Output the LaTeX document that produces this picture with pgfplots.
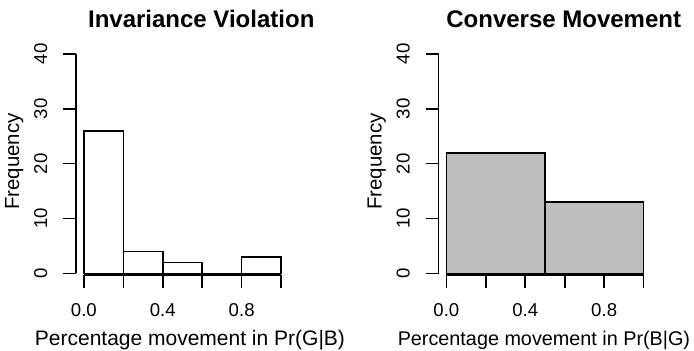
\documentclass[border=0pt]{standalone}
\usepackage{fontspec}
\setmainfont{Liberation Sans}
\usepackage{pgfplots}
\pgfplotsset{compat=1.18}
\definecolor{rgray}{RGB}{190,190,190}
\begin{document}
\begin{tikzpicture}
\useasboundingbox (0,0) rectangle (347pt,175.5pt);
\pgfplotsset{
  rhist/.style={
    scale only axis, width=106.5pt, height=111.95pt,
    anchor=south west, clip=false,
    xmin=-0.04, xmax=1.04, ymin=-0.3, ymax=40.5,
    axis line style={draw=none},
    tick align=outside, major tick length=6.5pt,
    every tick/.style={black, line width=0.8pt},
    xtick={0,0.2,0.4,0.6,0.8,1.0},
    xticklabels={0.0,{},0.4,{},0.8,{}},
    ytick={0,10,20,30,40},
    xtick pos=bottom, ytick pos=left,
    /pgf/number format/assume math mode=true,
    ticklabel style={font=\fontsize{9.3}{11}\selectfont},
    xticklabel style={anchor=base, yshift=-14pt},
    yticklabel style={xshift=-8pt, rotate=90, anchor=base},
    ylabel={Frequency},
    ylabel style={at={(axis description cs:-0.29,0.507)}, anchor=center, rotate=0, font=\fontsize{10.2}{12}\selectfont},
    title style={at={(axis description cs:0.588,1)}, anchor=base, yshift=5.65pt, font=\bfseries\fontsize{12}{14}\selectfont},
  }
}
\begin{axis}[rhist, at={(38pt,37.95pt)},
  title={Invariance Violation},
  xlabel={Percentage movement in Pr(G|B)},
  xlabel style={at={(axis description cs:0.535,0)}, anchor=base, yshift=-35pt, font=\fontsize{10.5}{12}\selectfont}]
\addplot[ybar interval, fill=white, draw=black, line width=0.8pt]
  coordinates {(0,26) (0.2,4) (0.4,2) (0.6,0) (0.8,3) (1.0,3)};
\draw[line width=0.8pt] (axis cs:0,-0.3) -- (axis cs:1,-0.3);
\draw[line width=0.8pt] (axis cs:-0.04,0) -- (axis cs:-0.04,40);
\end{axis}
\begin{axis}[rhist, at={(219.25pt,37.95pt)},
  title={Converse Movement},
  xlabel={Percentage movement in Pr(B|G)},
  xlabel style={at={(axis description cs:0.495,0)}, anchor=base, yshift=-35pt, font=\fontsize{9.9}{12}\selectfont}]
\addplot[ybar interval, fill=rgray, draw=black, line width=0.8pt]
  coordinates {(0,22) (0.5,13) (1.0,13)};
\draw[line width=0.8pt] (axis cs:0,-0.3) -- (axis cs:1,-0.3);
\draw[line width=0.8pt] (axis cs:-0.04,0) -- (axis cs:-0.04,40);
\end{axis}
\end{tikzpicture}
\end{document}
